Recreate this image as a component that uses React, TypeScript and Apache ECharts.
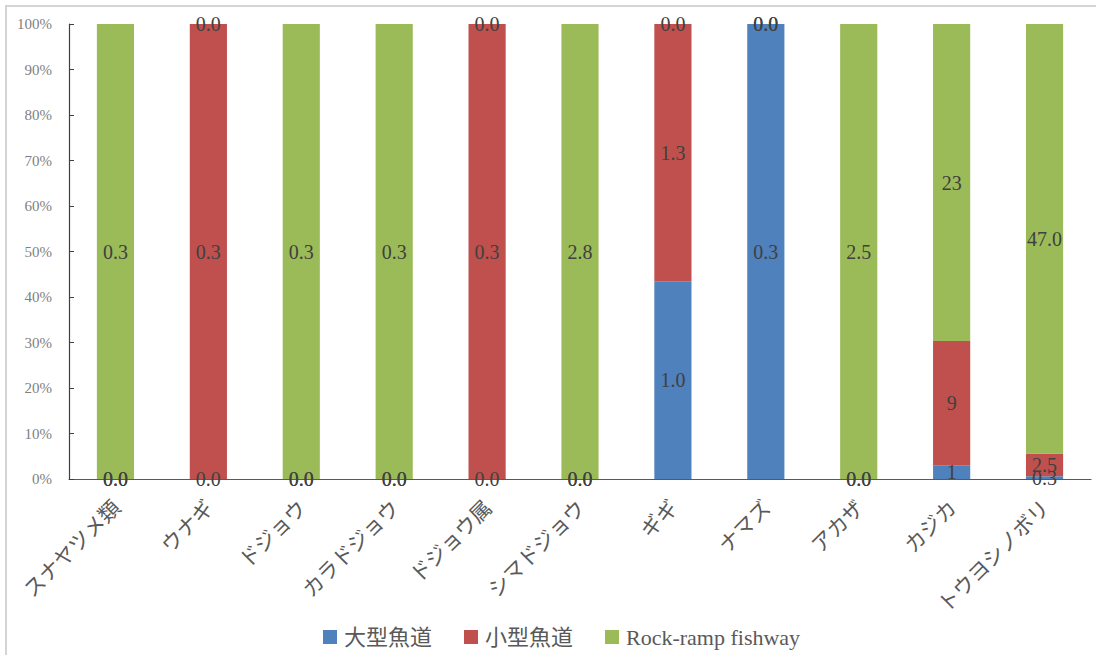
import React, { useEffect, useRef } from "react";
import * as echarts from "echarts";

// Species surveyed
const categories = [
  "スナヤツメ類",
  "ウナギ",
  "ドジョウ",
  "カラドジョウ",
  "ドジョウ属",
  "シマドジョウ",
  "ギギ",
  "ナマズ",
  "アカザ",
  "カジカ",
  "トウヨシノボリ",
];

// Counts per fishway type
const largeFishway = [0, 0, 0, 0, 0, 0, 1.0, 0.3, 0, 1, 0.3];
const smallFishway = [0, 0.3, 0, 0, 0.3, 0, 1.3, 0, 0, 9, 2.5];
const rockRamp = [0.3, 0, 0.3, 0.3, 0, 2.8, 0, 0, 2.5, 23, 47.0];

// Decimal places used when printing each species' counts
const labelDecimals = [1, 1, 1, 1, 1, 1, 1, 1, 1, 0, 1];

const yTicks = [0, 10, 20, 30, 40, 50, 60, 70, 80, 90, 100];

const seriesNames = ["大型魚道", "小型魚道", "Rock-ramp fishway"];
const seriesColors = ["#4F81BD", "#C0504D", "#9BBB59"];

const SERIF = "'Liberation Serif', 'Noto Sans CJK JP', serif";
const GOTHIC = "'Noto Sans CJK JP', sans-serif";

export default function App() {
  const ref = useRef<HTMLDivElement>(null);

  useEffect(() => {
    if (!ref.current) return;
    const chart = echarts.init(ref.current, null, { renderer: "svg" });

    const totals = categories.map(
      (_, i) => largeFishway[i] + smallFishway[i] + rockRamp[i]
    );
    const toShares = (arr: number[]) =>
      arr.map((v, i) => ({
        value: totals[i] ? (v / totals[i]) * 100 : 0,
        raw: v,
      }));

    const seriesData = [largeFishway, smallFishway, rockRamp].map(toShares);

    chart.setOption({
      animation: false,
      backgroundColor: "#ffffff",
      graphic: [
        {
          type: "rect",
          shape: { x: 6, y: 6, width: 1110, height: 670 },
          style: { fill: "none", stroke: "#d4d4d4", lineWidth: 2 },
          silent: true,
          z: -10,
        },
      ],
      grid: { left: 69, right: 5, top: 24, bottom: 176, containLabel: false },
      legend: {
        top: 621,
        left: 318,
        itemWidth: 14,
        itemHeight: 14,
        itemGap: 32,
        icon: "rect",
        textStyle: {
          fontFamily: SERIF,
          fontSize: 22,
          color: "#595959",
          padding: [0, 0, 0, 2],
        },
        data: seriesNames,
      },
      xAxis: {
        type: "category",
        data: categories,
        axisLine: { lineStyle: { color: "#595959", width: 1.2 } },
        axisTick: { inside: true, length: 7, lineStyle: { color: "#404040" } },
        axisLabel: {
          rotate: 45,
          margin: 24,
          interval: 0,
          fontFamily: GOTHIC,
          fontSize: 21,
          color: "#595959",
        },
        splitLine: { show: false },
      },
      yAxis: {
        type: "value",
        min: 0,
        max: 100,
        interval: 10,
        axisLine: { show: true, lineStyle: { color: "#404040", width: 1.2 } },
        axisTick: { show: true, inside: true, length: 5, lineStyle: { color: "#404040" } },
        axisLabel: {
          margin: 17,
          fontFamily: SERIF,
          fontSize: 15,
          color: "#808080",
          formatter: (v: number) => (yTicks.includes(v) ? `${v}%` : ""),
        },
        splitLine: { show: false },
      },
      series: seriesNames.map((name, s) => ({
        name,
        type: "bar",
        stack: "share",
        barWidth: "40%",
        itemStyle: { color: seriesColors[s] },
        label: {
          show: true,
          position: "inside",
          fontFamily: SERIF,
          fontSize: 20,
          color: "#404040",
          formatter: (p: any) =>
            Number(p.data.raw).toFixed(labelDecimals[p.dataIndex]),
        },
        data: seriesData[s],
      })),
    });

    return () => chart.dispose();
  }, []);

  return (
    <div
      ref={ref}
      style={{ position: "absolute", left: 0, top: 0, width: 1096, height: 655 }}
    />
  );
}
